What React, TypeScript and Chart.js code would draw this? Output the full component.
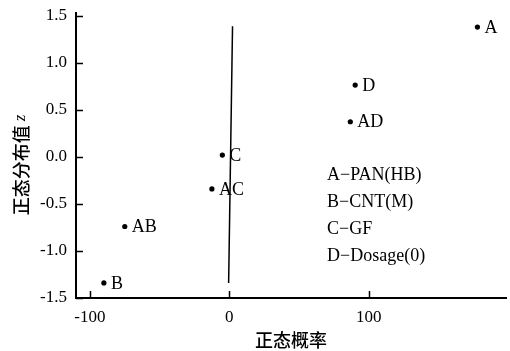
import React, { useEffect, useRef } from "react";
import { Chart, registerables } from "chart.js";

Chart.register(...registerables);

const effectLabels = ["A", "D", "AD", "C", "AC", "AB", "B"];
const effectValues = [178, 90.3, 86.8, -5, -12.5, -75, -90];
const zValues = [1.38, 0.764, 0.374, 0.02, -0.34, -0.74, -1.34];
const refLineX = [-0.5, 2.3];
const refLineZ = [-1.34, 1.39];
const xTicks = [-100, 0, 100];
const yTicks = [-1.5, -1.0, -0.5, 0.0, 0.5, 1.0, 1.5];
const legendLines = ["A\u2212PAN(HB)", "B\u2212CNT(M)", "C\u2212GF", "D\u2212Dosage(0)"];
const xTitle = "正态概率";
const yTitle = "正态分布值";
const yTitleVar = "z";

const SERIF = "'Liberation Serif', 'Noto Sans CJK SC', serif";
const CJK = "'Noto Sans CJK SC', 'Liberation Serif', serif";

const decorPlugin = {
  id: "decor",
  afterDraw(chart: any) {
    const ctx = chart.ctx;
    const xs = chart.scales.x;
    const ys = chart.scales.y;
    const area = chart.chartArea;
    ctx.save();
    // inward ticks
    ctx.strokeStyle = "#000";
    ctx.lineWidth = 1.5;
    ctx.beginPath();
    xTicks.forEach((v) => {
      const px = Math.round(xs.getPixelForValue(v)) + 0.5;
      ctx.moveTo(px, area.bottom);
      ctx.lineTo(px, area.bottom - 7);
    });
    yTicks.forEach((v) => {
      const py = Math.round(ys.getPixelForValue(v)) + 0.5;
      ctx.moveTo(area.left, py);
      ctx.lineTo(area.left + 7, py);
    });
    ctx.stroke();

    // point labels
    ctx.fillStyle = "#000";
    ctx.font = `18px ${SERIF}`;
    ctx.textBaseline = "middle";
    ctx.textAlign = "left";
    effectLabels.forEach((lab, i) => {
      const px = xs.getPixelForValue(effectValues[i]);
      const py = ys.getPixelForValue(zValues[i]);
      ctx.fillText(lab, px + 7, py + 1);
    });

    // legend text
    legendLines.forEach((t, i) => {
      ctx.fillText(t, 327, 175 + i * 27);
    });

    // x title
    ctx.font = `500 18px ${CJK}`;
    ctx.textAlign = "center";
    ctx.fillText(xTitle, 291, 340);

    // y title (rotated)
    ctx.translate(21, 165);
    ctx.rotate(-Math.PI / 2);
    ctx.font = `500 18px ${CJK}`;
    const w1 = ctx.measureText(yTitle + " ").width;
    ctx.font = `italic 17px ${SERIF}`;
    const w2 = ctx.measureText(yTitleVar).width;
    const start = -(w1 + w2) / 2;
    ctx.textAlign = "left";
    ctx.font = `500 18px ${CJK}`;
    ctx.fillText(yTitle + " ", start, 0);
    ctx.font = `italic 17px ${SERIF}`;
    ctx.fillText(yTitleVar, start + w1, 0);
    ctx.restore();
  },
};

export default function App() {
  const ref = useRef<HTMLCanvasElement>(null);
  useEffect(() => {
    if (!ref.current) return;
    const chart = new Chart(ref.current, {
      type: "scatter",
      data: {
        datasets: [
          {
            type: "line",
            data: refLineX.map((x, i) => ({ x, y: refLineZ[i] })),
            borderColor: "#000",
            borderWidth: 1.5,
            pointRadius: 0,
            fill: false,
          } as any,
          {
            type: "scatter",
            data: effectValues.map((x, i) => ({ x, y: zValues[i] })),
            backgroundColor: "#000",
            borderColor: "#000",
            pointRadius: 2.6,
            borderWidth: 0,
          },
        ],
      },
      options: {
        animation: false,
        responsive: false,
        devicePixelRatio: 1,
        layout: { padding: { top: 13, left: 0, right: 0, bottom: 0 } },
        plugins: { legend: { display: false }, tooltip: { enabled: false } },
        scales: {
          x: {
            type: "linear",
            min: -110,
            max: 198.5,
            grid: { display: false, drawTicks: false },
            border: { display: true, color: "#000", width: 2 },
            afterBuildTicks: (s: any) => {
              s.ticks = xTicks.map((v) => ({ value: v }));
            },
            afterFit: (s: any) => {
              s.height = 53;
              s.paddingLeft = 0;
              s.paddingRight = 0;
            },
            ticks: {
              color: "#000",
              padding: 9,
              maxRotation: 0,
              font: { family: SERIF, size: 17 },
              callback: (v: any) => String(v),
            },
          },
          y: {
            type: "linear",
            min: -1.5,
            max: 1.53,
            grid: { display: false, drawTicks: false },
            border: { display: true, color: "#000", width: 2 },
            afterBuildTicks: (s: any) => {
              s.ticks = yTicks.map((v) => ({ value: v }));
            },
            afterFit: (s: any) => {
              s.width = 76;
              s.paddingTop = 0;
              s.paddingBottom = 0;
            },
            ticks: {
              color: "#000",
              padding: 9,
              font: { family: SERIF, size: 17 },
              callback: (v: any) => Number(v).toFixed(1),
            },
          },
        },
      },
      plugins: [decorPlugin],
    });
    return () => chart.destroy();
  }, []);
  return (
    <div style={{ position: "fixed", left: 0, top: 0, width: 510, height: 351, background: "#fff" }}>
      <canvas ref={ref} width={510} height={351} style={{ display: "block" }} />
    </div>
  );
}
